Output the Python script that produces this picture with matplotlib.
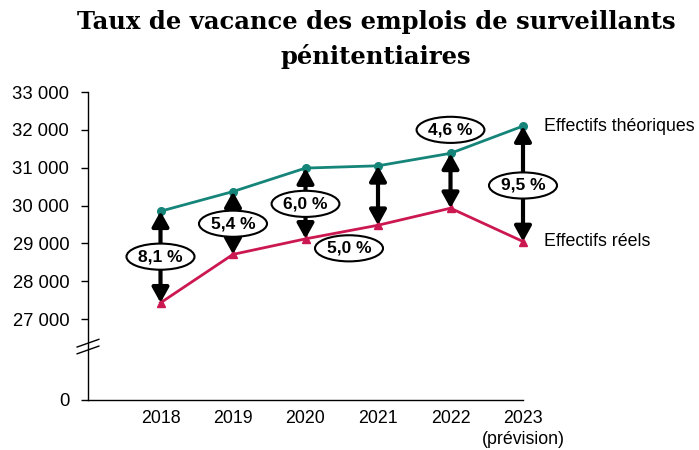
import matplotlib
matplotlib.use("Agg")
import matplotlib.pyplot as plt

# data
years = ["2018", "2019", "2020", "2021", "2022", "2023\n(prévision)"]
theoriques = [29850, 30370, 30990, 31050, 31380, 32100]
reels = [27430, 28710, 29120, 29480, 29930, 29050]
taux_labels = ["8,1 %", "5,4 %", "6,0 %", "5,0 %", "4,6 %", "9,5 %"]
# where each ellipse label sits (x position, value)
label_x = [1, 2, 3, 3.6, 5, 6]
label_y = [28650, 29520, 30045, 28870, 32000, 30530]

ytick_vals = [27000, 28000, 29000, 30000, 31000, 32000, 33000]
y_zero = 24863  # fake position of the "0" tick below the axis break

plt.rcParams['font.family'] = ['Liberation Sans', 'DejaVu Sans']

teal = "#15857A"
crimson = "#CC1850"

fig = plt.figure(figsize=(6.99, 4.5), dpi=100)
ax = fig.add_axes([88 / 699, 50 / 450, 435 / 699, 308 / 450])

x = list(range(1, len(years) + 1))
ax.plot(x, theoriques, color=teal, lw=2, marker="o", ms=5.5, zorder=3, clip_on=False)
ax.plot(x, reels, color=crimson, lw=2, marker="^", ms=5.5, zorder=3, clip_on=False)

# double arrows between the two series
for xi, t, r in zip(x, theoriques, reels):
    ax.annotate("", xy=(xi, t), xytext=(xi, r),
                arrowprops=dict(arrowstyle="<|-|>,head_length=0.45,head_width=0.25",
                                lw=3, color="black", shrinkA=0, shrinkB=0,
                                mutation_scale=20),
                zorder=4)

for lx, ly, lab in zip(label_x, label_y, taux_labels):
    ax.text(lx, ly, lab, ha="center", va="center", fontsize=12.5, fontweight="bold",
            zorder=5,
            bbox=dict(boxstyle="ellipse,pad=0.1", fc="white", ec="black", lw=1.5))

# series names at the right end
ax.annotate("Effectifs théoriques", xy=(x[-1], theoriques[-1]), xytext=(15, 0),
            textcoords="offset points", ha="left", va="center", fontsize=12.8,
            annotation_clip=False)
ax.annotate("Effectifs réels", xy=(x[-1], reels[-1]), xytext=(15, 0),
            textcoords="offset points", ha="left", va="center", fontsize=12.8,
            annotation_clip=False)

ax.set_xlim(0, 6)
ax.set_ylim(y_zero, 33000)
ax.set_xticks(x)
ax.set_xticklabels(years, fontsize=12.8, linespacing=1.35)
ax.tick_params(axis="x", length=0, pad=7)
ax.set_yticks([y_zero] + ytick_vals)
ax.set_yticklabels(["0"] + [f"{v // 1000} {v % 1000:03d}" for v in ytick_vals], fontsize=13.3)
ax.tick_params(axis="y", length=5, width=1, direction="out", pad=8.5)

for side in ["top", "right"]:
    ax.spines[side].set_visible(False)
ax.spines["left"].set_linewidth(1)
ax.spines["bottom"].set_linewidth(1)

# axis break marks
for dy in (0.0, 0.022):
    ax.plot([-0.025, 0.025], [0.15 + dy, 0.175 + dy], transform=ax.transAxes,
            color="black", lw=1, clip_on=False)

fig.text(376 / 699, 0.978, "Taux de vacance des emplois de surveillants\npénitentiaires",
         ha="center", va="top", fontsize=17.5, fontweight="bold",
         family=["DejaVu Serif"], linespacing=1.5)

fig.savefig("out.png", dpi=100)
